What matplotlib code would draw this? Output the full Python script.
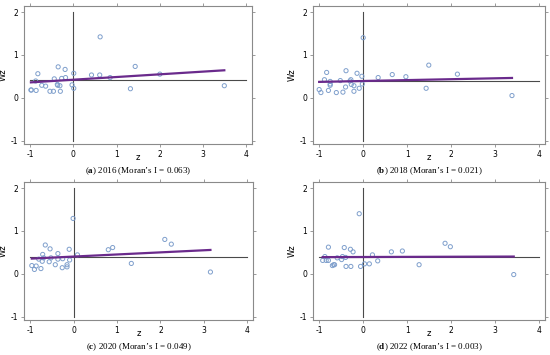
import matplotlib
matplotlib.use("Agg")
import matplotlib.pyplot as plt
import numpy as np

plt.rcParams['mathtext.fontset'] = 'custom'
plt.rcParams['mathtext.rm'] = 'Liberation Serif'
plt.rcParams['mathtext.bf'] = 'Liberation Serif:bold'

# ---- data ----
z_2016 = [-0.98, -0.97, -0.87, -0.82, -0.86, -0.73, -0.64, -0.54, -0.46, -0.44, -0.35, -0.37, -0.36,
          -0.31, -0.30, -0.27, -0.19, -0.18, -0.03, 0.01, 0.01, 0.42, 0.61, 0.62, 0.85, 1.32, 1.43, 2.00, 3.49]
wz_2016 = [0.18, 0.18, 0.39, 0.56, 0.17, 0.29, 0.27, 0.15, 0.15, 0.44, 0.72, 0.31, 0.29,
           0.28, 0.15, 0.45, 0.66, 0.47, 0.30, 0.57, 0.22, 0.53, 0.53, 1.42, 0.47, 0.21, 0.73, 0.55, 0.28]

z_2018 = [-1.00, -0.96, -0.88, -0.83, -0.79, -0.75, -0.75, -0.75, -0.61, -0.52, -0.46, -0.40, -0.39,
          -0.30, -0.28, -0.27, -0.21, -0.21, -0.14, -0.09, -0.03, -0.02, 0.00, 0.34, 0.66, 0.97, 1.43,
          1.49, 2.14, 3.38]
wz_2018 = [0.19, 0.12, 0.42, 0.59, 0.17, 0.38, 0.32, 0.29, 0.12, 0.40, 0.13, 0.25, 0.63,
           0.39, 0.42, 0.31, 0.15, 0.28, 0.57, 0.22, 0.50, 0.32, 1.40, 0.47, 0.54, 0.49, 0.22,
           0.76, 0.55, 0.05]

z_2020 = [-0.96, -0.90, -0.86, -0.80, -0.75, -0.72, -0.71, -0.69, -0.65, -0.56, -0.54, -0.52, -0.42,
          -0.36, -0.36, -0.26, -0.25, -0.15, -0.15, -0.10, -0.09, -0.01, 0.09, 0.80, 0.90, 1.33,
          2.10, 2.25, 3.15]
wz_2020 = [0.19, 0.10, 0.18, 0.34, 0.12, 0.29, 0.45, 0.37, 0.67, 0.28, 0.58, 0.37, 0.21,
           0.47, 0.34, 0.14, 0.35, 0.21, 0.16, 0.57, 0.32, 1.29, 0.44, 0.56, 0.61, 0.24,
           0.80, 0.69, 0.04]

z_2022 = [-0.92, -0.87, -0.84, -0.79, -0.79, -0.70, -0.67, -0.65, -0.59, -0.49, -0.47, -0.43, -0.40,
          -0.39, -0.29, -0.28, -0.23, -0.09, -0.06, 0.03, 0.14, 0.21, 0.33, 0.64, 0.89, 1.27,
          1.86, 1.98, 3.42]
wz_2022 = [0.31, 0.40, 0.31, 0.31, 0.62, 0.19, 0.21, 0.21, 0.37, 0.33, 0.40, 0.61, 0.38,
           0.17, 0.57, 0.17, 0.51, 1.40, 0.17, 0.23, 0.23, 0.44, 0.30, 0.51, 0.53, 0.21,
           0.71, 0.63, -0.02]

years = ['2016', '2018', '2020', '2022']
letters = ['a', 'b', 'c', 'd']
moran_i = [0.063, 0.021, 0.049, 0.003]
mean_wz = [0.42, 0.39, 0.40, 0.39]
x_ticks = [-1, 0, 1, 2, 3, 4]
y_ticks = [-1, 0, 1, 2]

zs = [z_2016, z_2018, z_2020, z_2022]
wzs = [wz_2016, wz_2018, wz_2020, wz_2022]

# ---- layout ----
W, H = 550, 355
fig = plt.figure(figsize=(W / 100, H / 100), dpi=100)
boxes = [(24, 6, 252, 144), (313, 6, 545, 144), (24, 182, 253, 320), (313, 182, 545, 320)]

frame_c = '#8a8a8a'
pt_c = '#7f9fcc'
reg_c = '#6a2a8c'
ref_c = '#4a4a4a'

for i in range(4):
    l, t, r, b = boxes[i]
    ax = fig.add_axes([l / W, 1 - b / H, (r - l) / W, (b - t) / H])
    z = np.array(zs[i]); wz = np.array(wzs[i])
    ax.plot([x_ticks[0], x_ticks[-1]], [mean_wz[i], mean_wz[i]], color=ref_c, lw=0.8, zorder=2)
    ax.plot([0, 0], [y_ticks[0], y_ticks[-1]], color=ref_c, lw=0.8, zorder=2)
    ax.scatter(z, wz, s=9, facecolors='none', edgecolors=pt_c, linewidths=0.7, zorder=3)
    xr = np.array([z.min(), z.max()])
    ax.plot(xr, mean_wz[i] + moran_i[i] * xr, color=reg_c, lw=1.6, zorder=4)
    ax.set_xlim(-1.14, 4.13)
    ax.set_ylim(-1.08, 2.14)
    ax.set_xticks(x_ticks)
    ax.set_yticks(y_ticks)
    ax.set_xticklabels([str(v) for v in x_ticks])
    ax.set_yticklabels([str(v) for v in y_ticks])
    ax.tick_params(axis='both', which='both', direction='out', length=2.5, width=0.6,
                   color=frame_c, labelsize=5.5, pad=1.5, top=True, right=True,
                   labeltop=False, labelright=False)
    for s in ax.spines.values():
        s.set_color(frame_c)
        s.set_linewidth(0.8)
    ax.set_ylabel('Wz', fontsize=6, labelpad=2)
    ax.text(0.5, -13.5 / (b - t), 'z', transform=ax.transAxes, ha='center', va='center',
            fontsize=6)
    cx = (l + r) / 2 / W
    cy = 1 - (b + 27.5) / H
    fig.text(cx, cy, '(' + r'$\mathbf{' + letters[i] + '}$' + ') ' + years[i] +
             ' (Moran\u2019s I = ' + f'{moran_i[i]:.3f}' + ')',
             ha='center', va='center', fontsize=6.5, family='Liberation Serif')

fig.savefig('out.png', dpi=100)
